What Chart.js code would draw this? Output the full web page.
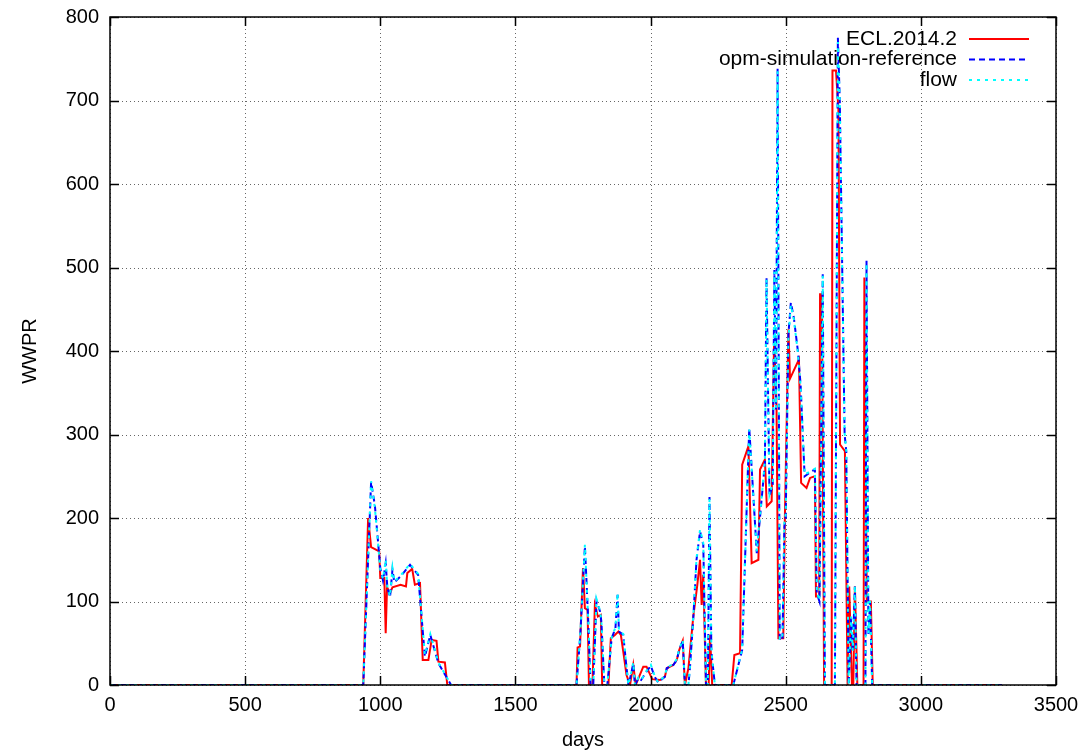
<!DOCTYPE html>
<html>
<head>
<meta charset="utf-8">
<script src="https://cdn.jsdelivr.net/npm/chart.js@4/dist/chart.umd.min.js"></script>
<style>
html,body{margin:0;padding:0;background:#fff;}
#wrap{width:1086px;height:755px;position:relative;}
</style>
</head>
<body>
<div id="wrap"><canvas id="c" width="1086" height="755"></canvas></div>
<script>
// ---- data ----
const xTicks = [0, 500, 1000, 1500, 2000, 2500, 3000, 3500];
const yTicks = [0, 100, 200, 300, 400, 500, 600, 700, 800];
const seriesNames = ["ECL.2014.2", "opm-simulation-reference", "flow"];

const eclDays = [0, 937, 955, 966, 996, 1000, 1015, 1020, 1025, 1036,
  1045, 1075, 1095, 1100, 1118, 1128, 1147, 1157, 1178, 1190,
  1208, 1215, 1239, 1248, 1726, 1730, 1739, 1750, 1757, 1767,
  1772, 1785, 1794, 1805, 1816, 1821, 1844, 1853, 1868, 1881,
  1890, 1899, 1911, 1924, 1936, 1945, 1955, 1973, 1985, 2006,
  2035, 2053, 2060, 2084, 2097, 2106, 2119, 2127, 2140, 2158,
  2173, 2183, 2189, 2195, 2205, 2215, 2220, 2228, 2300, 2310,
  2331, 2339, 2362, 2374, 2399, 2405, 2423, 2430, 2448, 2457,
  2466, 2473, 2491, 2497, 2510, 2516, 2549, 2557, 2577, 2590,
  2608, 2612, 2624, 2627, 2634, 2642, 2670, 2673, 2686, 2695,
  2701, 2719, 2729, 2735, 2745, 2750, 2756, 2765, 2788, 2791,
  2800, 2815, 2822, 3300];
const eclWwpr = [0, 0, 200, 165, 160, 128, 128, 62, 117, 110,
  117, 120, 118, 134, 139, 120, 122, 30, 30, 54,
  53, 28, 27, 0, 0, 45, 46, 140, 92, 90,
  0, 0, 96, 82, 84, 0, 0, 56, 60, 64,
  60, 40, 12, 0, 24, 0, 8, 22, 22, 7,
  6, 10, 20, 24, 30, 42, 53, 0, 20, 82,
  120, 150, 96, 132, 0, 0, 60, 0, 0, 36,
  38, 264, 286, 146, 150, 258, 270, 214, 220, 414,
  334, 56, 56, 202, 426, 367, 390, 242, 236, 248,
  250, 106, 106, 468, 468, 0, 0, 736, 736, 690,
  288, 280, 0, 118, 0, 0, 118, 0, 0, 488,
  100, 100, 0, 0];

const opmDays = [0, 937, 966, 980, 990, 1000, 1010, 1020, 1026, 1036,
  1045, 1052, 1075, 1110, 1140, 1165, 1185, 1215, 1262, 1726,
  1740, 1757, 1763, 1770, 1778, 1788, 1800, 1813, 1818, 1829,
  1840, 1856, 1870, 1878, 1883, 1899, 1910, 1918, 1930, 1936,
  1942, 1955, 1965, 1985, 2001, 2015, 2028, 2053, 2060, 2084,
  2097, 2106, 2119, 2127, 2140, 2146, 2158, 2170, 2183, 2195,
  2205, 2212, 2218, 2225, 2238, 2306, 2339, 2365, 2393, 2423,
  2429, 2440, 2452, 2458, 2464, 2470, 2478, 2488, 2495, 2500,
  2510, 2519, 2530, 2545, 2555, 2570, 2596, 2608, 2615, 2625,
  2637, 2645, 2682, 2693, 2700, 2718, 2724, 2733, 2742, 2748,
  2756, 2762, 2795, 2799, 2806, 2812, 2820, 3300];
const opmWwpr = [0, 0, 243, 215, 178, 140, 125, 146, 117, 105,
  138, 123, 130, 144, 132, 34, 60, 26, 0, 0,
  60, 166, 124, 72, 0, 0, 101, 88, 76, 0,
  0, 56, 68, 108, 64, 60, 24, 0, 16, 26,
  0, 8, 6, 16, 23, 10, 3, 10, 20, 24,
  30, 42, 53, 0, 0, 22, 80, 150, 184, 168,
  0, 0, 225, 40, 0, 0, 42, 308, 158, 266,
  488, 226, 240, 497, 330, 738, 54, 54, 190, 200,
  420, 458, 440, 400, 360, 250, 256, 258, 110, 100,
  492, 0, 0, 775, 700, 300, 280, 0, 80, 40,
  118, 0, 0, 508, 60, 100, 0, 0];

const flowDays = [0, 937, 966, 980, 990, 1000, 1010, 1020, 1026, 1036,
  1045, 1052, 1075, 1110, 1140, 1165, 1185, 1215, 1262, 1726,
  1740, 1757, 1763, 1770, 1778, 1788, 1800, 1813, 1818, 1829,
  1840, 1856, 1870, 1878, 1883, 1899, 1910, 1918, 1930, 1936,
  1942, 1955, 1965, 1985, 2001, 2015, 2028, 2053, 2060, 2084,
  2097, 2106, 2119, 2127, 2140, 2146, 2158, 2170, 2183, 2195,
  2205, 2212, 2218, 2225, 2238, 2306, 2339, 2365, 2393, 2423,
  2429, 2440, 2452, 2458, 2464, 2470, 2478, 2488, 2495, 2500,
  2510, 2519, 2530, 2545, 2555, 2570, 2596, 2608, 2615, 2625,
  2637, 2645, 2682, 2693, 2700, 2718, 2724, 2733, 2742, 2748,
  2756, 2762, 2795, 2799, 2806, 2812, 2820, 3300];
const flowWwpr = [0, 0, 244, 212, 176, 138, 127, 150, 118, 106,
  140, 124, 131, 145, 133, 36, 61, 27, 0, 0,
  62, 168, 125, 73, 0, 0, 103, 89, 77, 0,
  0, 57, 69, 110, 65, 61, 25, 0, 17, 27,
  0, 9, 6, 17, 24, 11, 3, 11, 21, 25,
  31, 43, 54, 0, 0, 23, 82, 152, 186, 170,
  0, 0, 223, 41, 0, 0, 43, 306, 160, 268,
  486, 228, 242, 495, 332, 735, 55, 55, 195, 205,
  415, 455, 438, 398, 358, 252, 257, 259, 112, 101,
  490, 0, 0, 770, 698, 302, 281, 0, 82, 41,
  119, 0, 0, 505, 62, 101, 0, 0];

// ---- build ----
const pts = (d, v) => d.map((x, i) => ({x: x, y: v[i]}));
const FONT = '"Liberation Sans", Arial, Helvetica, sans-serif';

const gridPlugin = {
  id: 'gpGrid',
  beforeDatasetsDraw(chart) {
    const {ctx, chartArea: a, scales: {x, y}} = chart;
    ctx.save();
    ctx.strokeStyle = 'rgba(0,0,0,0.6)';
    ctx.lineWidth = 1;
    ctx.setLineDash([1, 3]);
    xTicks.forEach(v => {
      const px = Math.round(x.getPixelForValue(v)) + 0.5;
      ctx.beginPath(); ctx.moveTo(px, a.top); ctx.lineTo(px, a.bottom); ctx.stroke();
    });
    yTicks.forEach(v => {
      const py = Math.round(y.getPixelForValue(v)) + 0.5;
      ctx.beginPath(); ctx.moveTo(a.left, py); ctx.lineTo(a.right, py); ctx.stroke();
    });
    ctx.restore();
  },
  afterDraw(chart) {
    const {ctx, chartArea: a, scales: {x, y}} = chart;
    ctx.save();
    ctx.strokeStyle = '#000';
    ctx.lineWidth = 1.5;
    ctx.setLineDash([]);
    ctx.strokeRect(a.left, a.top, a.right - a.left, a.bottom - a.top);
    const L = 9;
    xTicks.forEach(v => {
      const px = Math.round(x.getPixelForValue(v)) + 0.5;
      ctx.beginPath();
      ctx.moveTo(px, a.bottom); ctx.lineTo(px, a.bottom - L);
      ctx.moveTo(px, a.top); ctx.lineTo(px, a.top + L);
      ctx.stroke();
    });
    yTicks.forEach(v => {
      const py = Math.round(y.getPixelForValue(v)) + 0.5;
      ctx.beginPath();
      ctx.moveTo(a.left, py); ctx.lineTo(a.left + L, py);
      ctx.moveTo(a.right, py); ctx.lineTo(a.right - L, py);
      ctx.stroke();
    });
    // legend (gnuplot style: text right-aligned, sample to the right)
    ctx.font = '21px ' + FONT;
    ctx.textAlign = 'right';
    ctx.textBaseline = 'middle';
    const textRight = a.right - 99;
    const s0 = a.right - 87, s1 = a.right - 27;
    chart.data.datasets.forEach((ds, i) => {
      const ry = a.top + 22 + i * 20.5;
      ctx.fillStyle = '#000';
      ctx.fillText(ds.label, textRight, ry);
      ctx.strokeStyle = ds.borderColor;
      ctx.lineWidth = ds.borderWidth;
      ctx.setLineDash(ds.borderDash || []);
      ctx.beginPath(); ctx.moveTo(s0, ry); ctx.lineTo(s1, ry); ctx.stroke();
    });
    ctx.restore();
  }
};

new Chart(document.getElementById('c'), {
  type: 'line',
  data: {
    datasets: [
      {label: seriesNames[0], data: pts(eclDays, eclWwpr), borderColor: '#ff0000', borderWidth: 2, borderDash: [], order: 3},
      {label: seriesNames[1], data: pts(opmDays, opmWwpr), borderColor: '#0000ff', borderWidth: 2, borderDash: [6, 4], order: 2},
      {label: seriesNames[2], data: pts(flowDays, flowWwpr), borderColor: '#00ffff', borderWidth: 2, borderDash: [3, 5], order: 1}
    ]
  },
  options: {
    responsive: false,
    animation: false,
    parsing: true,
    elements: {point: {radius: 0}, line: {tension: 0, fill: false}},
    layout: {padding: {left: 0, right: 30, top: 17, bottom: 0}},
    plugins: {legend: {display: false}, tooltip: {enabled: false}},
    scales: {
      x: {
        type: 'linear', min: 0, max: 3500,
        afterBuildTicks: s => { s.ticks = xTicks.map(v => ({value: v})); },
        afterFit: s => { s.height = 70; s.paddingLeft = 0; s.paddingRight = 0; },
        grid: {display: false, drawTicks: false},
        border: {display: false},
        ticks: {color: '#000', font: {family: FONT, size: 20}, padding: 8, maxRotation: 0, autoSkip: false,
                callback: v => String(v)},
        title: {display: true, text: 'days', color: '#000', font: {family: FONT, size: 20}, padding: {top: 0, bottom: 3}}
      },
      y: {
        type: 'linear', min: 0, max: 800,
        afterBuildTicks: s => { s.ticks = yTicks.map(v => ({value: v})); },
        afterFit: s => { s.width = 110; s.paddingTop = 0; s.paddingBottom = 0; },
        grid: {display: false, drawTicks: false},
        border: {display: false},
        ticks: {color: '#000', font: {family: FONT, size: 20}, padding: 11, autoSkip: false,
                callback: v => String(v)},
        title: {display: true, text: 'WWPR', color: '#000', font: {family: FONT, size: 20}, padding: {top: 18, bottom: 0}}
      }
    }
  },
  plugins: [gridPlugin]
});
</script>
</body>
</html>
